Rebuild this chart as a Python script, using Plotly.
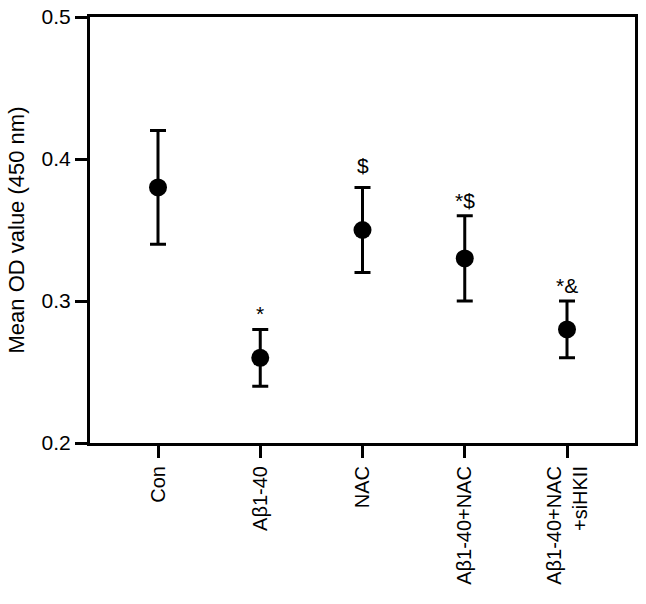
import plotly.graph_objects as go

categories = ["Con", "Aβ1-40", "NAC", "Aβ1-40+NAC", "Aβ1-40+NAC<br>+siHKII"]
means = [0.38, 0.26, 0.35, 0.33, 0.28]
errors = [0.04, 0.02, 0.03, 0.03, 0.02]
sig_labels = ["", "*", "$", "*$", "*&"]
y_ticks = [0.2, 0.3, 0.4, 0.5]

xpos = list(range(len(categories)))
FONT = "Liberation Sans, Arial, Helvetica, sans-serif"
label_shift = [2, 2, 8, 2, 2]  # pixel gap above each upper cap

fig = go.Figure()
fig.add_trace(go.Scatter(
    x=xpos, y=means, mode="markers",
    marker=dict(color="black", size=18),
    error_y=dict(type="data", array=errors, visible=True,
                 color="black", thickness=3, width=8),
    showlegend=False, hoverinfo="skip",
))

for xi, m, e, lab, sh in zip(xpos, means, errors, sig_labels, label_shift):
    if lab:
        fig.add_annotation(x=xi, y=m + e, text=lab, showarrow=False,
                           yanchor="bottom", yshift=sh,
                           font=dict(family=FONT, size=21, color="black"))

fig.update_layout(
    width=646, height=604,
    margin=dict(l=90, r=11, t=17, b=161, autoexpand=False),
    plot_bgcolor="white", paper_bgcolor="white",
    font=dict(family=FONT, size=20, color="black"),
)
fig.update_xaxes(
    automargin=False, ticklabeloverflow="allow",
    range=[-0.665, 4.665], tickmode="array", tickvals=xpos, ticktext=categories,
    tickangle=-90, ticks="outside", ticklen=12, tickwidth=3, tickcolor="black",
    showline=True, linewidth=3, linecolor="black", mirror=True,
    showgrid=False, zeroline=False, tickfont=dict(size=20),
)
fig.update_yaxes(
    automargin=False, ticklabeloverflow="allow",
    range=[0.2, 0.5], tickmode="array", tickvals=y_ticks,
    ticktext=[f"{v:.1f}" for v in y_ticks],
    ticks="outside", ticklen=12, tickwidth=3, tickcolor="black",
    showline=True, linewidth=3, linecolor="black", mirror=True,
    showgrid=False, zeroline=False, tickfont=dict(size=21),
    title=dict(text="Mean OD value (450 nm)", font=dict(size=22), standoff=11),
)

# remove the default 8px page margin so the figure fills the window exactly
fig.write_html("out.html", config={"displayModeBar": False},
               post_script="document.body.style.margin='0';")
